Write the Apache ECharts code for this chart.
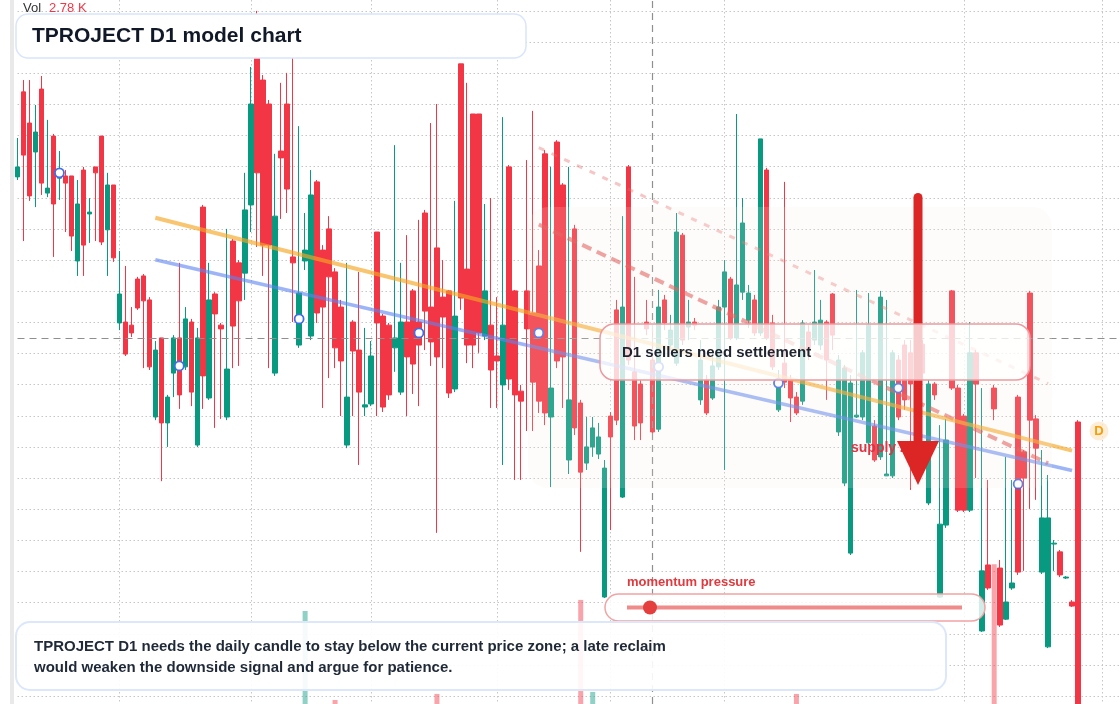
<!DOCTYPE html>
<html lang="en">
<head>
<meta charset="utf-8">
<title>TPROJECT D1 model chart</title>
<script src="https://cdn.jsdelivr.net/npm/echarts@6.0.0/dist/echarts.min.js"></script>
<style>
  html, body { margin: 0; padding: 0; background: #ffffff; }
  #main { width: 1120px; height: 704px; }
</style>
</head>
<body>
<div id="main"></div>
<script type="text/javascript">
// daily candles
const opens = [
  366.7, 394.0, 384.0, 374.7, 394.9, 361.5, 379.8, 366.3, 367.0, 367.0,
  339.7, 368.9, 354.8, 369.9, 379.8, 349.7, 364.1, 319.8, 320.1, 319.1,
  333.9, 334.9, 327.2, 289.6, 315.0, 287.7, 303.7, 315.0, 305.7, 320.1,
  280.6, 357.0, 295.7, 329.1, 319.1, 289.6, 346.1, 339.1, 335.8, 357.7,
  405.2, 397.8, 390.1, 303.7, 375.0, 390.1, 341.0, 312.7, 339.7, 315.6,
  365.1, 343.2, 350.0, 336.2, 324.9, 280.6, 320.1, 311.1, 292.8, 293.8,
  349.0, 322.0, 319.1, 311.8, 297.6, 320.1, 330.1, 320.1, 355.1, 324.9,
  343.9, 328.1, 330.1, 298.6, 403.0, 337.1, 386.9, 386.9, 315.6, 319.1,
  309.2, 299.9, 369.9, 330.1, 297.9, 330.1, 323.0, 338.1, 374.1, 289.6,
  377.9, 364.1, 275.8, 350.0, 294.1, 274.8, 280.0, 277.7, 231.8, 289.9,
  324.0, 263.9, 369.9, 304.1, 300.2, 320.1, 307.9, 285.7, 327.2, 312.7,
  306.9, 348.0, 318.5, 320.1, 295.1, 301.5, 295.7, 305.7, 324.9, 333.9,
  315.0, 329.7, 320.7, 327.2, 316.6, 368.9, 319.8, 291.9, 306.9, 301.5,
  296.0, 294.7, 316.9, 314.3, 312.7, 320.1, 329.1, 284.8, 268.4, 245.9,
  289.6, 289.6, 281.3, 286.7, 276.8, 270.7, 270.7, 307.9, 312.7, 310.2,
  307.9, 313.0, 262.0, 300.2, 231.8, 254.9, 330.1, 298.9, 289.9, 259.7,
  310.2, 220.9, 242.1, 298.9, 241.1, 224.7, 234.7, 296.0, 278.4, 329.4,
  289.0, 239.8, 215.8, 248.8, 246.3, 237.9, 230.2, 288.0
];
const closes = [
  369.9, 373.7, 360.6, 381.1, 364.7, 363.1, 358.0, 368.9, 364.7, 347.7,
  358.0, 344.8, 355.4, 368.0, 345.8, 364.1, 340.7, 329.1, 309.8, 316.6,
  324.6, 326.9, 305.7, 311.1, 287.7, 296.0, 315.0, 296.7, 321.1, 297.6,
  315.0, 302.8, 327.2, 322.7, 317.9, 305.0, 318.8, 326.9, 356.1, 390.1,
  368.0, 344.8, 344.8, 354.1, 372.8, 362.8, 339.1, 329.4, 343.2, 360.9,
  323.0, 324.9, 334.6, 311.8, 307.6, 296.0, 310.8, 297.6, 293.5, 309.2,
  319.8, 292.8, 296.7, 315.0, 320.1, 308.9, 306.6, 312.7, 323.6, 313.7,
  308.9, 321.7, 297.3, 322.0, 327.8, 312.7, 312.7, 316.6, 330.1, 304.7,
  307.6, 319.1, 301.8, 296.7, 294.7, 317.9, 300.8, 294.7, 290.9, 298.9,
  307.6, 308.9, 295.1, 286.1, 271.9, 280.0, 286.1, 283.2, 273.2, 283.2,
  288.6, 324.9, 307.9, 286.7, 287.7, 317.9, 284.8, 324.9, 319.8, 317.5,
  349.0, 314.3, 320.1, 319.1, 307.9, 290.9, 306.0, 324.9, 336.2, 315.0,
  332.0, 351.9, 329.4, 316.6, 378.9, 315.0, 305.7, 298.9, 300.8, 295.7,
  290.9, 319.8, 311.1, 320.1, 320.7, 307.9, 315.9, 307.9, 305.3, 300.5,
  290.2, 310.2, 319.1, 275.8, 328.1, 271.3, 310.2, 289.6, 295.1, 300.2,
  296.7, 303.7, 300.2, 296.7, 255.2, 282.2, 298.9, 259.7, 259.7, 310.2,
  300.2, 240.2, 234.7, 292.2, 222.8, 230.2, 236.3, 239.8, 270.0, 288.6,
  279.6, 257.2, 257.2, 249.1, 238.9, 238.2, 228.9, 195.5
];
const lows = [
  365.7, 346.1, 359.0, 357.0, 360.9, 360.2, 341.0, 359.3, 349.0, 342.9,
  334.9, 334.9, 345.5, 346.1, 344.8, 334.9, 339.4, 317.5, 309.2, 315.3,
  324.0, 305.3, 304.7, 288.6, 269.0, 280.0, 296.0, 292.2, 304.7, 293.1,
  280.0, 292.2, 295.1, 286.1, 289.0, 288.6, 305.3, 306.0, 327.2, 349.0,
  344.2, 334.9, 305.3, 302.8, 353.2, 355.1, 320.1, 311.8, 336.8, 314.3,
  319.8, 292.5, 302.1, 305.3, 289.9, 279.6, 289.9, 274.2, 289.9, 293.1,
  289.9, 291.2, 295.1, 304.1, 296.7, 289.9, 297.0, 293.1, 311.1, 306.0,
  252.4, 305.3, 295.7, 297.6, 324.0, 306.9, 305.3, 310.2, 314.3, 292.5,
  292.5, 274.2, 298.3, 269.4, 269.4, 285.1, 285.1, 290.9, 287.0, 267.1,
  305.3, 292.5, 271.3, 283.8, 246.3, 272.6, 276.8, 276.1, 231.5, 253.3,
  287.0, 263.6, 306.3, 282.2, 282.2, 315.9, 282.2, 284.8, 317.5, 311.1,
  306.0, 312.7, 314.3, 317.5, 293.5, 290.2, 295.1, 304.7, 272.6, 314.3,
  314.3, 327.2, 318.2, 315.6, 315.6, 314.3, 304.7, 291.2, 298.9, 288.0,
  290.2, 293.5, 307.9, 312.7, 311.1, 295.1, 311.1, 283.5, 267.4, 245.3,
  289.3, 288.6, 280.6, 275.2, 275.8, 270.7, 270.0, 288.6, 291.9, 266.2,
  288.6, 301.5, 261.3, 295.1, 231.5, 254.0, 298.3, 259.1, 259.1, 259.1,
  270.0, 220.6, 234.1, 288.6, 222.2, 224.4, 234.1, 238.9, 240.2, 260.1,
  263.0, 239.2, 215.4, 240.2, 238.2, 237.6, 228.6, 192.3
];
const highs = [
  379.2, 397.8, 397.8, 389.8, 399.1, 385.0, 380.5, 375.0, 368.9, 367.0,
  365.7, 369.9, 359.9, 369.9, 379.8, 368.0, 364.1, 342.9, 338.1, 324.9,
  334.6, 335.5, 328.1, 314.0, 315.0, 296.7, 315.9, 339.1, 324.9, 321.1,
  318.2, 357.7, 339.1, 329.7, 319.8, 350.0, 346.8, 340.0, 368.0, 402.0,
  420.0, 399.4, 391.4, 374.1, 396.9, 400.1, 404.9, 383.0, 355.1, 368.9,
  365.7, 344.8, 354.1, 337.4, 327.2, 339.1, 320.7, 336.2, 318.2, 314.0,
  349.0, 322.7, 319.8, 376.9, 339.1, 348.0, 330.7, 352.9, 356.1, 384.0,
  390.1, 340.0, 330.4, 359.0, 403.0, 396.9, 386.9, 386.9, 358.0, 359.9,
  328.1, 385.9, 370.5, 330.4, 299.9, 372.1, 387.9, 343.2, 375.3, 369.9,
  378.5, 364.7, 369.9, 351.3, 295.1, 289.6, 289.6, 287.7, 275.8, 291.2,
  327.2, 354.1, 370.5, 334.6, 301.5, 327.2, 319.1, 330.4, 328.8, 322.4,
  355.1, 348.7, 327.2, 321.4, 314.3, 303.1, 311.1, 327.2, 340.0, 334.6,
  386.9, 359.9, 332.0, 328.8, 378.9, 369.6, 322.4, 304.7, 365.1, 303.1,
  297.6, 320.7, 319.1, 336.8, 327.2, 320.7, 329.4, 309.5, 306.3, 303.1,
  330.4, 311.1, 329.4, 288.6, 330.1, 327.2, 311.1, 309.5, 314.3, 314.3,
  311.1, 314.3, 301.5, 300.8, 287.0, 289.0, 330.4, 299.9, 290.6, 320.1,
  311.1, 298.9, 269.4, 299.9, 243.7, 276.8, 269.4, 296.7, 279.0, 330.1,
  290.2, 279.0, 271.0, 250.1, 246.9, 238.5, 230.8, 288.6
];
const volumes = [
  1420, 1630, 1280, 980, 1510, 870, 1340, 1120, 960, 1450, 1720, 1390, 810, 940, 1580, 1260, 1470, 1190, 1350, 880,
  1040, 1310, 1560, 1690, 1820, 990, 1230, 1480, 1150, 1370, 1610, 1750, 1290, 1060, 920, 1400, 1520, 1180, 1330, 1770,
  1890, 1640, 1450, 1560, 1020, 1380, 1270, 1160, 2925, 1490, 1600, 1240, 1110, 2040, 1350, 1470, 1080, 1290, 1010, 1190,
  1530, 1410, 1220, 970, 1360, 1300, 1440, 1130, 1250, 1540, 2100, 1170, 1320, 1460, 1810, 1390, 1620, 1580, 1200, 1280,
  1090, 1510, 1670, 1340, 1150, 1420, 1560, 1230, 1700, 1310, 1480, 1600, 1270, 1650, 3035, 1140, 2120, 1050, 1880, 1370,
  1490, 1720, 1560, 1410, 1260, 1030, 1380, 1450, 1160, 940, 1520, 1330, 1010, 1080, 1290, 1370, 1220, 1310, 1480, 1190,
  1540, 1420, 1120, 1250, 1690, 1570, 1300, 1180, 1360, 1270, 2100, 1440, 1150, 1230, 1090, 1320, 1470, 1380, 1610, 1830,
  1250, 1340, 1520, 1160, 1590, 1020, 1400, 1280, 1190, 1350, 1460, 1230, 1620, 1110, 1740, 1500, 1380, 1560, 1420, 1480,
  1310, 1700, 1260, 3390, 1530, 1170, 1090, 1640, 1360, 1580, 1290, 1450, 1680, 1010, 1240, 890, 1120, 2780
];

// trend lines: [candle index, price]
const orangeTrend = [[23, 353.6], [176, 278.8]];
const blueTrend = [[23, 340.1], [176, 272.4]];
const channelUpper = [[87, 376.1], [172, 300.3]];
const channelLower = [[87, 351.4], [172, 274.7]];
const markerPoints = [[7, 368.0], [27, 306.0], [47, 321.1], [67, 316.6], [87, 316.6],
  [107, 305.7], [127, 300.5], [147, 298.9], [167, 268.1]];
const cursorIndex = 106;
const cursorPrice = 315.0;
const monthStarts = [17, 39, 59, 80, 99, 118, 158, 181];

// trading days, a few spare slots on the right
const categories = [];
let d = new Date(Date.UTC(2024, 2, 1));
while (categories.length < 185) {
  const wd = d.getUTCDay();
  if (wd !== 0 && wd !== 6) categories.push(d.toISOString().slice(0, 10));
  d = new Date(d.getTime() + 86400000);
}

const UP = '#089981';
const DOWN = '#f23645';
const FONT = '"Liberation Sans", Arial, sans-serif';

const candleData = opens.map((o, i) => [o, closes[i], lows[i], highs[i]]);
const volumeData = volumes.map((v, i) => ({
  value: v,
  itemStyle: { color: closes[i] > opens[i] ? 'rgba(8,153,129,0.45)' : 'rgba(242,54,69,0.45)' }
}));

let myChart = echarts.init(document.getElementById('main'));

let options = {
  animation: false,
  backgroundColor: '#ffffff',
  grid: { left: 17.5, right: -1.5, top: 0, bottom: 0 },
  xAxis: {
    type: 'category',
    data: categories,
    boundaryGap: false,
    axisLine: { show: false },
    axisTick: { show: false },
    axisLabel: { show: false },
    splitLine: {
      show: true,
      interval: (idx) => monthStarts.includes(idx),
      lineStyle: { color: '#c6c6c6', type: [1.5, 2.5], width: 1 }
    }
  },
  yAxis: [
    {
      type: 'value',
      min: 197.45,
      max: 423.5,
      splitNumber: 22,
      offset: 5.5,
      axisLine: { show: true, onZero: false, lineStyle: { color: '#e9e9e9', width: 4 } },
      axisTick: { show: false },
      axisLabel: { show: false },
      splitLine: {
        show: true,
        showMinLine: false,
        showMaxLine: false,
        lineStyle: { color: '#c6c6c6', type: [1.5, 2.5], width: 1 }
      }
    },
    {
      type: 'value',
      min: 2000,
      max: 9000,
      axisLine: { show: false },
      axisTick: { show: false },
      axisLabel: { show: false },
      splitLine: { show: false }
    }
  ],
  series: [
    {
      name: 'Vol',
      type: 'bar',
      yAxisIndex: 1,
      data: volumeData,
      barWidth: 5,
      z: 1,
      silent: true
    },
    {
      name: 'D1',
      type: 'candlestick',
      data: candleData,
      barWidth: 5,
      clip: false,
      z: 3,
      itemStyle: {
        color: UP, color0: DOWN,
        borderColor: UP, borderColor0: DOWN,
        borderWidth: 1
      },
      markLine: {
        silent: true,
        symbol: ['none', 'none'],
        label: { show: false },
        lineStyle: { color: '#8f8f8f', type: [7, 5], width: 1.2 },
        data: [{ xAxis: categories[cursorIndex] }, { yAxis: cursorPrice }]
      }
    },
    {
      type: 'line', data: channelUpper, symbol: 'none', silent: true, z: 4,
      lineStyle: { color: '#e86a6a', width: 3, opacity: 0.38, type: [6, 8] }
    },
    {
      type: 'line', data: channelLower, symbol: 'none', silent: true, z: 4,
      lineStyle: { color: '#e04e4e', width: 4, opacity: 0.6, type: [10, 6] }
    },
    {
      type: 'line', data: orangeTrend, symbol: 'none', silent: true, z: 5,
      lineStyle: { color: '#f5a623', width: 4, opacity: 0.65 }
    },
    {
      type: 'line', data: blueTrend, symbol: 'none', silent: true, z: 5,
      lineStyle: { color: '#5b84f0', width: 3.5, opacity: 0.6 }
    },
    {
      type: 'scatter', data: markerPoints, symbol: 'circle', symbolSize: 9, silent: true, z: 6,
      itemStyle: { color: '#ffffff', borderColor: '#3f6fe6', borderWidth: 1.8, opacity: 1 }
    }
  ],
  graphic: [
    // warm zone behind the setup
    { type: 'rect', z: 10, silent: true,
      shape: { x: 528, y: 207, width: 524, height: 281, r: 20 },
      style: { fill: 'rgba(250,236,224,0.16)' } },

    // sell arrow
    { type: 'text', z: 29, silent: true, x: 851, y: 448,
      style: { text: 'supply zone', fill: '#dc3545', font: 'bold 14px ' + FONT, verticalAlign: 'middle' } },
    { type: 'rect', z: 30, silent: true,
      shape: { x: 913.5, y: 193, width: 9, height: 252, r: [4.5, 4.5, 0, 0] },
      style: { fill: '#dc2626' } },
    { type: 'polygon', z: 30, silent: true,
      shape: { points: [[897, 441], [939, 441], [918, 485]] },
      style: { fill: '#dc2626' } },

    // callout
    { type: 'rect', z: 40, silent: true,
      shape: { x: 600, y: 324, width: 430, height: 56, r: 14 },
      style: { fill: 'rgba(255,255,255,0.76)', stroke: '#ec9ba0', lineWidth: 1.5 } },
    { type: 'text', z: 41, silent: true, x: 622, y: 353,
      style: { text: 'D1 sellers need settlement', fill: '#1f2430', font: 'bold 15px ' + FONT, verticalAlign: 'middle' } },

    // D badge
    { type: 'circle', z: 40, silent: true,
      shape: { cx: 1099, cy: 431, r: 9.5 },
      style: { fill: 'rgba(253,231,200,0.75)' } },
    { type: 'text', z: 41, silent: true, x: 1099, y: 431,
      style: { text: 'D', fill: '#f59e0b', font: 'bold 13px ' + FONT, align: 'center', verticalAlign: 'middle' } },

    // momentum slider
    { type: 'text', z: 41, silent: true, x: 627, y: 582,
      style: { text: 'momentum pressure', fill: '#e0393e', font: 'bold 13px ' + FONT, verticalAlign: 'middle' } },
    { type: 'rect', z: 40, silent: true,
      shape: { x: 605, y: 594, width: 380, height: 27, r: 13.5 },
      style: { fill: 'rgba(255,255,255,0.82)', stroke: '#f2a3a3', lineWidth: 1.5 } },
    { type: 'line', z: 41, silent: true,
      shape: { x1: 627, y1: 607.5, x2: 962, y2: 607.5 },
      style: { stroke: 'rgba(229,62,62,0.6)', lineWidth: 4 } },
    { type: 'circle', z: 42, silent: true,
      shape: { cx: 650, cy: 607.5, r: 7 },
      style: { fill: '#e53e3e' } },

    // note box
    { type: 'rect', z: 40, silent: true,
      shape: { x: 16, y: 622, width: 930, height: 68, r: 14 },
      style: { fill: 'rgba(255,255,255,0.9)', stroke: '#dce7fa', lineWidth: 2 } },
    { type: 'text', z: 41, silent: true, x: 34, y: 647,
      style: { text: 'TPROJECT D1 needs the daily candle to stay below the current price zone; a late reclaim',
               fill: '#1f2937', font: 'bold 15px ' + FONT, verticalAlign: 'middle' } },
    { type: 'text', z: 41, silent: true, x: 34, y: 668,
      style: { text: 'would weaken the downside signal and argue for patience.',
               fill: '#1f2937', font: 'bold 15px ' + FONT, verticalAlign: 'middle' } },

    // title
    { type: 'rect', z: 40, silent: true,
      shape: { x: 16, y: 14, width: 510, height: 44, r: 12 },
      style: { fill: '#ffffff', stroke: '#d9e5fb', lineWidth: 1.5 } },
    { type: 'text', z: 41, silent: true, x: 32, y: 36,
      style: { text: 'TPROJECT D1 model chart', fill: '#111827', font: 'bold 21px ' + FONT, verticalAlign: 'middle' } },

    // volume readout
    { type: 'text', z: 41, silent: true, x: 23, y: 8,
      style: { text: 'Vol', fill: '#333333', font: '13px ' + FONT, verticalAlign: 'middle' } },
    { type: 'text', z: 41, silent: true, x: 49, y: 8,
      style: { text: '2.78 K', fill: '#f23645', font: '13px ' + FONT, verticalAlign: 'middle' } }
  ]
};

myChart.setOption(options);
</script>
</body>
</html>
